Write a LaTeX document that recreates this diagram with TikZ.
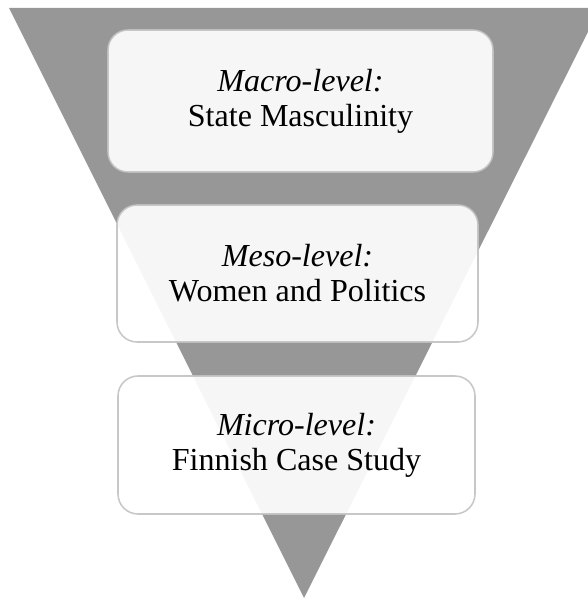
\documentclass[tikz,border=0pt]{standalone}
\usepackage{fontspec}
\setmainfont{Liberation Serif}
\definecolor{funnelgray}{HTML}{979797}
\definecolor{boxline}{HTML}{C2C2C2}
\tikzset{
    levelbox/.style={draw=boxline, line width=1.1pt, fill=white, fill opacity=0.92,
        draw opacity=0.9, text opacity=1, rounded corners=0.5cm, align=center,
        inner sep=0pt, font=\fontsize{22.8}{25}\selectfont}
}
\begin{document}
\begin{tikzpicture}
                \useasboundingbox (0,0) rectangle (14.7,14.975);
                \coordinate (TL) at (0.225,14.775);
                \coordinate (TR) at (15.0,14.775);
                \coordinate (Tip) at (7.6,0.025);

                \begin{scope}
                    \clip (0,0) rectangle (14.7,14.975);
                    \fill[funnelgray] (TL) -- (TR) -- (Tip) -- cycle;
                \end{scope}

                \node[levelbox, minimum width=9.625cm, minimum height=3.55cm] (macro) at (7.5125,12.45)
                    {\textit{Macro-level:}\\State Masculinity};
                \node[levelbox, minimum width=9.025cm, minimum height=3.425cm] (meso) at (7.4375,8.1375)
                    {\textit{Meso-level:}\\Women and Politics};
                \node[levelbox, minimum width=8.925cm, minimum height=3.45cm] (micro) at (7.4125,3.85)
                    {\textit{Micro-level:}\\Finnish Case Study};
            \end{tikzpicture}
\end{document}
